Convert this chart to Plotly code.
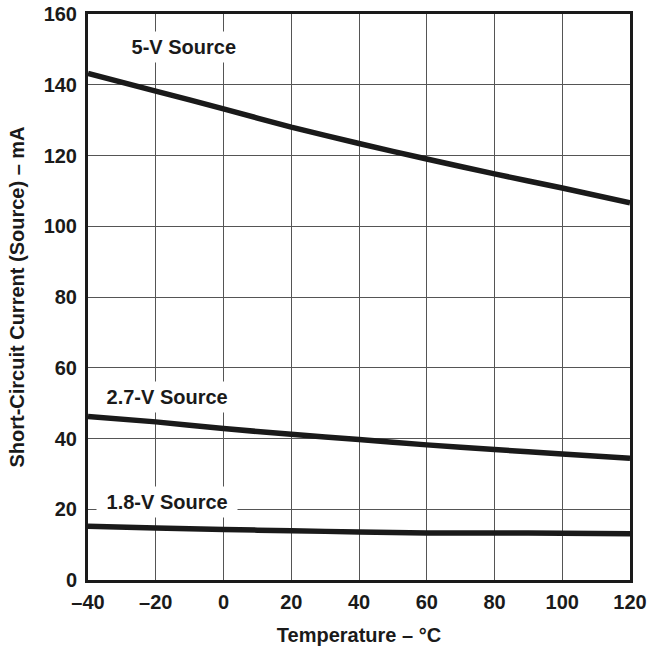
import plotly.graph_objects as go

temps = [-40, -20, 0, 20, 40, 60, 80, 100, 120]
src_5v = [143.2, 138.2, 133.2, 128.0, 123.4, 119.0, 114.8, 110.8, 106.6]
src_27v = [46.2, 44.7, 42.8, 41.2, 39.7, 38.2, 36.9, 35.6, 34.4]
src_18v = [15.2, 14.7, 14.3, 13.9, 13.6, 13.3, 13.3, 13.2, 13.1]

labels = ["5-V Source", "2.7-V Source", "1.8-V Source"]
label_x = [-11.8, -16.7, -16.7]
label_y = [150.8, 51.8, 22.0]

FONT = "Liberation Sans, Arial, sans-serif"
FS = 20

fig = go.Figure()
for ys in [src_5v, src_27v, src_18v]:
    fig.add_trace(go.Scatter(x=temps, y=ys, mode="lines",
                             line=dict(color="#1a1a1a", width=5.5, shape="spline", smoothing=0.6),
                             showlegend=False, hoverinfo="skip"))

for t, xx, yy in zip(labels, label_x, label_y):
    fig.add_annotation(x=xx, y=yy, text="\u00a0<b>%s</b>\u00a0" % t, showarrow=False,
                       font=dict(family=FONT, size=FS, color="#1a1a1a"),
                       bgcolor="white", borderpad=4)

axis_common = dict(showgrid=True, gridcolor="#555555", gridwidth=1,
                   showline=True, linecolor="#1a1a1a", linewidth=3, mirror=True,
                   zeroline=False, ticks="", automargin=False,
                   tickfont=dict(family=FONT, size=FS, color="#1a1a1a"))

fig.update_xaxes(range=[-40, 120], tickvals=temps,
                 ticktext=["<b>%s</b>" % (("\u2013%d" % -v) if v < 0 else str(v)) for v in temps],
                 ticklabelstandoff=2,
                 title=dict(text="<b>Temperature \u2013 \u00b0C</b>", standoff=16,
                            font=dict(family=FONT, size=FS, color="#1a1a1a")),
                 **axis_common)
yticks = list(range(0, 161, 20))
fig.update_yaxes(range=[0, 160], tickvals=yticks,
                 ticktext=["<b>%d</b>" % v for v in yticks],
                 ticklabelstandoff=4,
                 title=dict(text="<b>Short-Circuit Current (Source) \u2013 mA</b>", standoff=14,
                            font=dict(family=FONT, size=FS, color="#1a1a1a")),
                 **axis_common)

fig.update_layout(width=650, height=647, margin=dict(l=88, r=20, t=14, b=67),
                  plot_bgcolor="white", paper_bgcolor="white")

fig.write_html("out.html", config={"displayModeBar": False},
               post_script="document.body.style.margin='0';document.body.style.overflow='hidden';")
